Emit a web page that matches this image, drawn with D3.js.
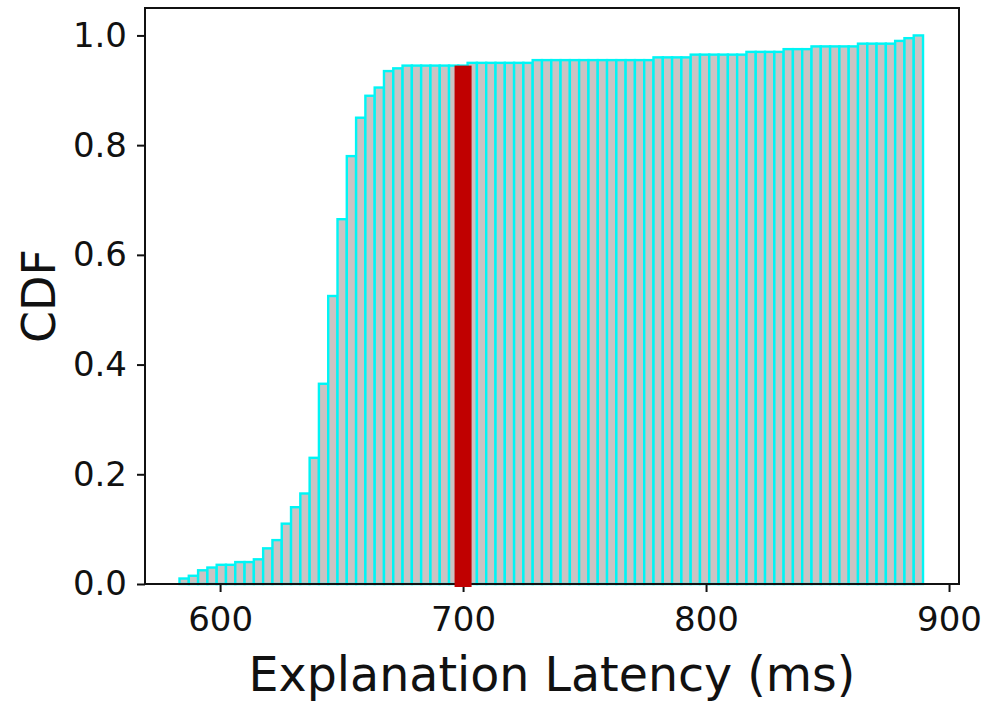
<html>
    <head>
        <title>Explanation Latency CDF</title>
        <script src="https://d3js.org/d3.v7.min.js"></script>
        <style>
            body { margin: 0; background: #fff; }
            text { font-family: "DejaVu Sans", sans-serif; fill: #111; }
        </style>
    </head>
    <body>
        <div id="chart"></div>
    </body>
    <script>
        // histogram bins (ms): start of first bin and bin width
        var binStart = 583.3
        var binWidth = 3.825
        // cumulative fraction per bin
        var cdf = [0.010, 0.015, 0.025, 0.030, 0.035, 0.035, 0.040, 0.040, 0.045, 0.065,
                   0.080, 0.110, 0.140, 0.165, 0.230, 0.365, 0.525, 0.665, 0.780, 0.850,
                   0.890, 0.905, 0.935, 0.940, 0.945, 0.945, 0.945, 0.945, 0.945, 0.945,
                   0.945, 0.950, 0.950, 0.950, 0.950, 0.950, 0.950, 0.950, 0.955, 0.955,
                   0.955, 0.955, 0.955, 0.955, 0.955, 0.955, 0.955, 0.955, 0.955, 0.955,
                   0.955, 0.960, 0.960, 0.960, 0.960, 0.965, 0.965, 0.965, 0.965, 0.965,
                   0.965, 0.970, 0.970, 0.970, 0.970, 0.975, 0.975, 0.975, 0.980, 0.980,
                   0.980, 0.980, 0.980, 0.985, 0.985, 0.985, 0.985, 0.990, 0.995, 1.000]
        // highlighted latency (red marker)
        var markerX = 700
        var markerW = 7
        var markerTop = 0.945

        var xTicks = [600, 700, 800, 900]
        var yTicks = [0, 0.2, 0.4, 0.6, 0.8, 1.0]

        var margin = {top: 8, right: 23, bottom: 121, left: 145},
            width = 982 - margin.left - margin.right,
            height = 705 - margin.top - margin.bottom;

        var svg = d3.select("#chart")
            .append("svg")
            .attr("width", 982)
            .attr("height", 705)
            .append("g")
            .attr("transform", "translate(" + margin.left + "," + margin.top + ")");

        var x = d3.scaleLinear()
            .domain([569.1, 904.1])
            .range([0, width]);

        var y = d3.scaleLinear()
            .domain([0, 1.05])
            .range([height, 0]);

        // bars
        svg.selectAll("rect.bar")
            .data(cdf)
            .enter()
            .append("rect")
            .attr("class", "bar")
            .attr("x", function(d, i){ return x(binStart + i * binWidth); })
            .attr("width", function(d, i){ return x(binStart + (i + 1) * binWidth) - x(binStart + i * binWidth); })
            .attr("y", function(d){ return y(d); })
            .attr("height", function(d){ return y(0) - y(d); })
            .attr("fill", "#cbc3c3")
            .attr("stroke", "#00f5f5")
            .attr("stroke-width", 2.4);

        // axes
        svg.append("g")
            .attr("transform", "translate(0," + height + ")")
            .call(d3.axisBottom(x).tickValues(xTicks).tickSize(8).tickPadding(15).tickFormat(d3.format("d")))
            .call(function(g){
                g.select(".domain").remove();
                g.selectAll("line").attr("stroke", "#111").attr("stroke-width", 2);
                g.selectAll("text").attr("font-size", 34).attr("font-family", "DejaVu Sans").attr("fill", "#111");
            });

        svg.append("g")
            .call(d3.axisLeft(y).tickValues(yTicks).tickSize(8).tickPadding(10).tickFormat(d3.format(".1f")))
            .call(function(g){
                g.select(".domain").remove();
                g.selectAll("line").attr("stroke", "#111").attr("stroke-width", 2);
                g.selectAll("text").attr("font-size", 34).attr("font-family", "DejaVu Sans").attr("fill", "#111");
            });

        // frame
        svg.append("rect")
            .attr("x", 0)
            .attr("y", 0)
            .attr("width", width)
            .attr("height", height)
            .attr("fill", "none")
            .attr("stroke", "#111")
            .attr("stroke-width", 2);

        // red marker
        svg.append("rect")
            .attr("x", x(markerX - markerW / 2))
            .attr("width", x(markerX + markerW / 2) - x(markerX - markerW / 2))
            .attr("y", y(markerTop))
            .attr("height", y(0) - y(markerTop) + 3)
            .attr("fill", "#c00000");

        // labels
        svg.append("text")
            .attr("x", width / 2)
            .attr("y", 691 - margin.top)
            .attr("text-anchor", "middle")
            .attr("font-size", 47.5)
            .text("Explanation Latency (ms)");

        svg.append("text")
            .attr("transform", "translate(" + (55 - margin.left) + "," + (height / 2) + ") rotate(-90)")
            .attr("text-anchor", "middle")
            .attr("font-size", 46)
            .text("CDF");
    </script>
</html>
